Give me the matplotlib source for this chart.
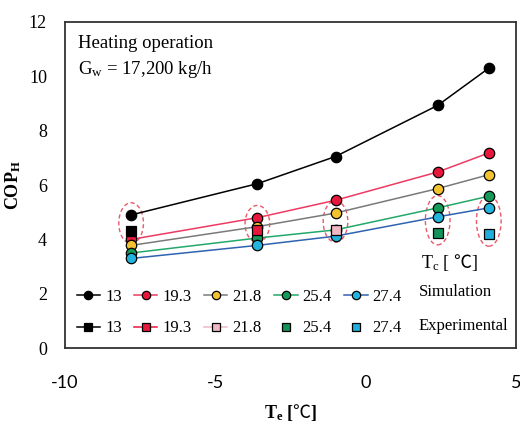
import matplotlib
matplotlib.use('Agg')
import matplotlib.pyplot as plt
from matplotlib.patches import Ellipse
from matplotlib.lines import Line2D

plt.rcParams['font.family'] = ['Liberation Serif', 'Noto Sans CJK SC']
plt.rcParams['mathtext.fontset'] = 'custom'
plt.rcParams['mathtext.rm'] = 'Liberation Serif'
plt.rcParams['mathtext.it'] = 'Liberation Serif:italic'
plt.rcParams['mathtext.bf'] = 'Liberation Serif:bold'
plt.rcParams['mathtext.sf'] = 'Noto Sans CJK SC'
plt.rcParams['mathtext.default'] = 'rm'
plt.rcParams['axes.unicode_minus'] = False

# evaporating temperature [C]
te = [-7.8, -3.6, -1.0, 2.4, 4.1]

# simulated COP for each condensing temperature
tc_labels = ['13', '19.3', '21.8', '25.4', '27.4']
cop_13 = [4.9, 6.05, 7.05, 8.93, 10.3]
cop_193 = [4.0, 4.8, 5.44, 6.48, 7.18]
cop_218 = [3.78, 4.47, 4.97, 5.87, 6.38]
cop_254 = [3.5, 4.05, 4.35, 5.16, 5.59]
cop_274 = [3.3, 3.78, 4.12, 4.83, 5.16]
sim = [cop_13, cop_193, cop_218, cop_254, cop_274]

# measured COP, one test per condensing temperature
exp_te = [-7.8, -3.6, -1.0, 2.4, 4.1]
exp_cop = [4.3, 4.35, 4.35, 4.25, 4.2]

line_cols = ['black', '#ee3a62', '#7a7a7a', '#22a86a', '#2f62b0']
mk_cols = ['black', '#e8173c', '#f2c230', '#169a5a', '#22b4dc']
exp_cols = ['black', '#e8173c', '#f0b8c4', '#13925a', '#22aedc']

fig = plt.figure(figsize=(5.2, 4.22), dpi=100)
ax = fig.add_axes([0.125, 0.175, 0.867, 0.773])

for i in range(5):
    ax.plot(te, sim[i], color=line_cols[i], lw=1.1, marker='o', ms=7.5,
            mfc=mk_cols[i], mec='black', mew=0.9, zorder=3)
    ax.plot(exp_te[i], exp_cop[i], ls='none', marker='s', ms=7.5,
            mfc=exp_cols[i], mec='black', mew=0.9, zorder=4)
    # dashed ring around the matching simulated and measured points
    y0 = sim[i][i]
    y1 = exp_cop[i]
    ax.add_patch(Ellipse((te[i], (y0 + y1) / 2), 0.82, abs(y0 - y1) + 0.9,
                         fill=False, ec='#e85a6a', ls=(0, (3, 2)), lw=1.0,
                         zorder=2))

ax.set_xlim(-10, 5)
ax.set_ylim(0, 12)
ax.set_xticks([-10, -5, 0, 5])
ax.set_yticks(range(0, 13, 2))
ax.tick_params(length=0, labelsize=13)
ax.tick_params(axis='y', pad=13)
ax.tick_params(axis='x', pad=19)
for lab in ax.get_xticklabels():
    lab.set_family(['Lato', 'DejaVu Sans'])
for sp in ax.spines.values():
    sp.set_color('#333333')
    sp.set_linewidth(1.3)

ax.set_ylabel(r'COP$_\mathbf{H}$', fontsize=13, fontweight='bold', labelpad=4)
ax.set_xlabel(r'T$_\mathbf{e}$ [$\mathsf{℃}$]', fontsize=13,
              fontweight='bold', labelpad=8)

ax.text(0.028, 0.96, 'Heating operation', transform=ax.transAxes,
        fontsize=13.5, va='top')
ax.text(0.028, 0.885, 'G$_w$ = 17,200 kg/h', transform=ax.transAxes,
        fontsize=13.5, va='top')

# legend: simulation row on top, experimental row below
handles = []
labels = []
for i in range(5):
    handles.append(Line2D([], [], color=line_cols[i], lw=1.1, marker='o', ms=6,
                          mfc=mk_cols[i], mec='black', mew=0.9))
    labels.append(tc_labels[i])
    ls = '-' if i < 3 else 'none'
    handles.append(Line2D([], [], color=exp_cols[i], lw=1.1,
                          ls=ls, marker='s', ms=6, mfc=exp_cols[i],
                          mec='black', mew=0.9))
    labels.append(tc_labels[i])
ax.legend(handles, labels, ncol=5, loc='lower left',
          bbox_to_anchor=(0.0, 0.0), frameon=False, fontsize=12,
          handlelength=1.4, handletextpad=0.3, columnspacing=0.75,
          labelspacing=0.95, borderaxespad=0.3)

ax.text(0.785, 0.172, 'Simulation', transform=ax.transAxes, fontsize=12,
        va='center')
ax.text(0.785, 0.068, 'Experimental', transform=ax.transAxes, fontsize=12,
        va='center')
ax.text(0.79, 0.262, r'T$_c$ [ $\mathsf{℃}$]', transform=ax.transAxes,
        fontsize=13, va='center')

fig.savefig('out.png', dpi=100)
